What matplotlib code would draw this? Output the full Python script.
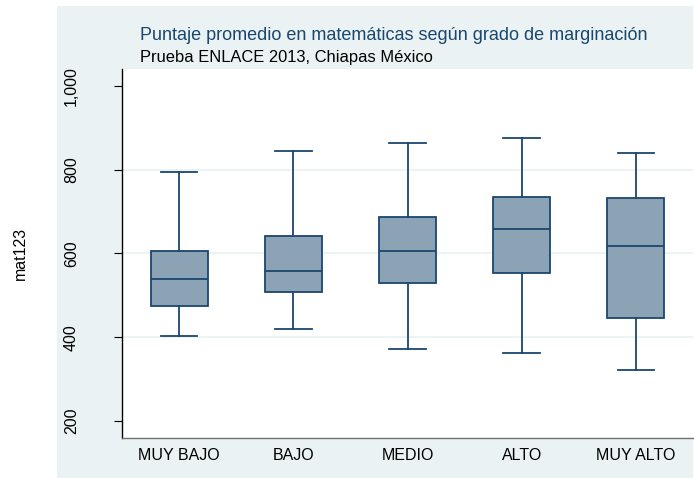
import matplotlib.pyplot as plt
from matplotlib.patches import Rectangle

plt.rcParams['font.family'] = ['Liberation Sans', 'DejaVu Sans']

# datos (cuartiles y bigotes)
grupos = ['MUY BAJO', 'BAJO', 'MEDIO', 'ALTO', 'MUY ALTO']
bigote_inf = [403, 420, 372, 361, 321]
q1 = [475, 508, 530, 553, 447]
mediana = [540, 558, 606, 658, 618]
q3 = [606, 643, 687, 736, 732]
bigote_sup = [795, 844, 864, 877, 841]
yticks = [200, 400, 600, 800, 1000]

fondo = '#eaf2f3'
azul = '#1a476f'

fig = plt.figure(figsize=(6.94, 4.78), dpi=100)
fig.patches.append(Rectangle((57 / 694, 0), (693 - 57) / 694, 1 - 6 / 478,
                             transform=fig.transFigure, facecolor=fondo,
                             edgecolor='none', zorder=-10))

ax = fig.add_axes([122 / 694, 1 - 438 / 478, (693 - 122) / 694, (438 - 69) / 478])
ax.set_facecolor('white')

stats = []
for i in range(len(grupos)):
    stats.append({'label': grupos[i], 'whislo': bigote_inf[i], 'q1': q1[i],
                  'med': mediana[i], 'q3': q3[i], 'whishi': bigote_sup[i],
                  'fliers': []})

ax.bxp(stats, positions=range(1, 6), widths=0.5, capwidths=0.32,
       patch_artist=True, showfliers=False,
       boxprops=dict(facecolor='#8ca2b5', edgecolor=azul, linewidth=1.3),
       medianprops=dict(color=azul, linewidth=1.3),
       whiskerprops=dict(color=azul, linewidth=1.3),
       capprops=dict(color=azul, linewidth=1.3), zorder=3)

ax.set_xlim(0.5, 5.5)
ax.set_ylim(159, 1041)
ax.set_yticks(yticks)
ax.set_yticklabels(['{:,}'.format(v) for v in yticks], rotation=90, va='center')
for v in yticks[1:-1]:
    ax.axhline(v, color=fondo, linewidth=1.3, zorder=1)

ax.tick_params(axis='y', length=6, width=0.8, pad=25, labelsize=11.5)
ax.tick_params(axis='x', length=0, pad=7, labelsize=11.5)
for s in ['top', 'right']:
    ax.spines[s].set_visible(False)
ax.spines['left'].set_color('black')
ax.spines['left'].set_linewidth(1.0)
ax.spines['bottom'].set_color('#707070')
ax.spines['bottom'].set_linewidth(1.0)

fig.text(20 / 694, 1 - 253 / 478, 'mat123', rotation=90, ha='center',
         va='center', fontsize=11.5)
fig.text(140 / 694, 1 - 35 / 478,
         'Puntaje promedio en matemáticas según grado de marginación',
         color=azul, fontsize=13, va='center', ha='left')
fig.text(140 / 694, 1 - 57 / 478, 'Prueba ENLACE 2013, Chiapas México',
         color='black', fontsize=11.9, va='center', ha='left')

fig.savefig('out.png', dpi=100, facecolor='white')
